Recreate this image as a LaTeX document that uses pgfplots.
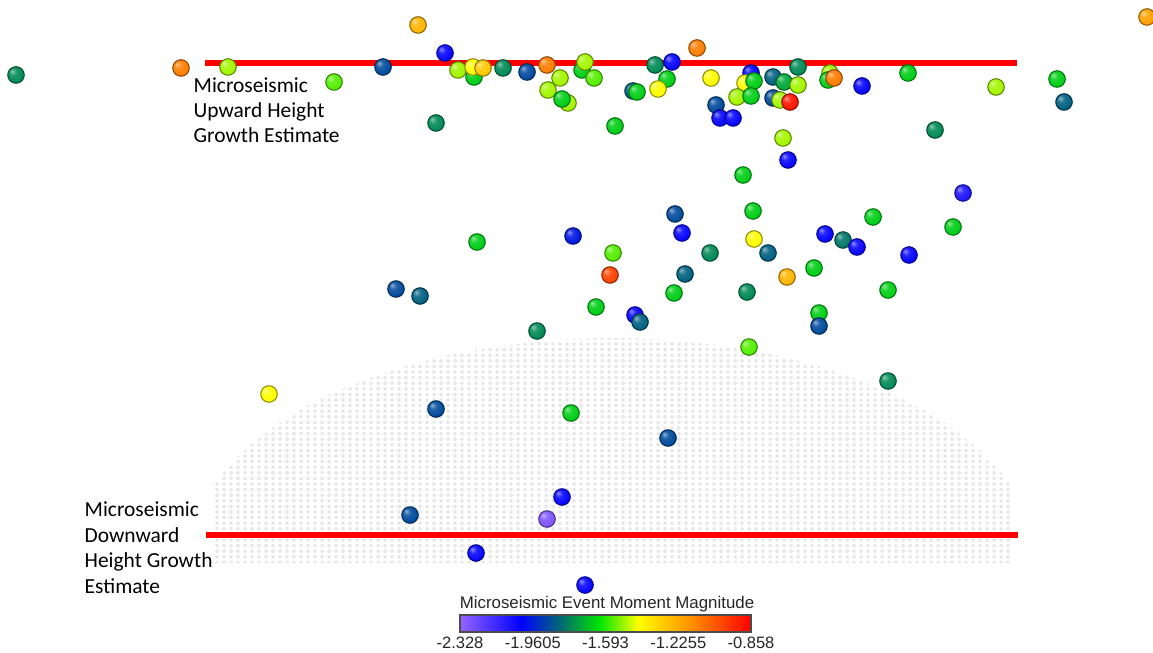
\documentclass[border=0pt]{standalone}
\usepackage{fontspec}
\setmainfont{Carlito}
\newfontfamily\arial{Liberation Sans}
\usepackage{pgfplots}
\usepackage{pgfplotstable}
\pgfplotsset{compat=1.18}
\usetikzlibrary{patterns.meta}

\tikzdeclarepattern{
  name=gdots,
  type=uncolored,
  bottom left={(-0.035cm,-0.028cm)},
  top right={(0.035cm,0.028cm)},
  tile size={(0.07cm,0.056cm)},
  code={\draw[line width=0.2pt] (0,0) circle (0.014cm);}
}

% lit sphere marker in the mapped colour
\pgfdeclareradialshading[mapped color]{sph}{\pgfqpoint{-12bp}{12bp}}{%
  color(0bp)=(mapped color!45!white);
  color(11bp)=(mapped color!88!white);
  color(28bp)=(mapped color);
  color(42bp)=(mapped color!82!black);
  color(50bp)=(mapped color!60!black)}
\pgfdeclareplotmark{sph}{%
  \pgfpathcircle{\pgfpointorigin}{\pgfplotmarksize}%
  \pgfshadepath{sph}{0}%
  \pgfusepath{stroke}}

\pgfplotsset{
  colormap={msm}{rgb255(0cm)=(150,100,255) rgb255(2.1cm)=(0,0,255) rgb255(3.5cm)=(0,110,110) rgb255(4.8cm)=(0,230,0) rgb255(6.1cm)=(255,255,0) rgb255(8cm)=(255,140,0) rgb255(10cm)=(255,0,0)},
}

% event positions (image pixels from top-left) and moment magnitude
\pgfplotstableread{
x y m
1147 17 -1.20
418 25 -1.25
16 75 -1.77
181 68 -1.12
228 67 -1.50
334 82 -1.56
383 67 -1.88
445 53 -2.03
458 70 -1.50
474 77 -1.66
473 67 -1.43
483 68 -1.30
503 68 -1.77
436 123 -1.77
527 72 -1.88
547 65 -1.12
560 78 -1.50
548 90 -1.50
582 70 -1.66
585 62 -1.50
594 78 -1.56
568 103 -1.50
562 99 -1.66
615 126 -1.66
633 91 -1.84
637 92 -1.66
655 65 -1.77
672 62 -2.03
667 79 -1.66
658 89 -1.43
697 48 -1.12
711 78 -1.43
751 73 -2.03
745 83 -1.43
737 97 -1.50
754 81 -1.66
751 96 -1.66
716 105 -1.88
720 118 -2.03
733 118 -2.03
773 77 -1.84
784 82 -1.72
798 85 -1.50
798 67 -1.77
773 98 -1.88
780 100 -1.50
790 102 -0.90
830 73 -1.50
828 80 -1.66
834 78 -1.12
862 86 -2.03
783 138 -1.50
788 160 -2.03
908 73 -1.66
996 87 -1.50
1057 79 -1.66
1064 102 -1.84
935 130 -1.77
743 175 -1.66
963 193 -2.08
753 211 -1.66
873 217 -1.66
953 227 -1.66
675 214 -1.88
682 233 -2.03
573 236 -1.98
477 242 -1.66
613 253 -1.56
754 239 -1.43
710 253 -1.77
768 253 -1.84
825 234 -2.03
843 240 -1.80
857 247 -2.03
909 255 -2.03
814 268 -1.66
610 275 -1.00
685 274 -1.84
787 277 -1.25
396 289 -1.88
420 296 -1.84
674 293 -1.66
747 292 -1.77
888 290 -1.66
596 307 -1.66
635 315 -2.03
640 322 -1.84
819 313 -1.66
819 326 -1.88
537 331 -1.77
749 347 -1.56
888 381 -1.77
269 394 -1.43
436 409 -1.88
571 413 -1.66
668 438 -1.88
562 497 -2.03
410 515 -1.88
547 519 -2.28
476 553 -2.03
585 585 -2.03
}\events

\begin{document}
\begin{tikzpicture}
\path[use as bounding box] (0,0) rectangle (11.53cm,6.52cm);
\begin{axis}[
  at={(0,0)}, anchor=south west,
  scale only axis, width=11.53cm, height=6.52cm,
  xmin=0, xmax=1153, ymin=0, ymax=652,
  hide axis,
  colormap name=msm,
  point meta min=-2.328, point meta max=-0.858,
]
% dotted stimulated region
\addplot[draw=none, pattern={gdots}, pattern color=gray!27, y filter/.expression={652-y}] coordinates {
(212,563) (212,487) (225,470) (250,445) (275,426) (300,410) (325,397) (350,386) (375,376) (400,368) (425,361) (450,355) (475,350) (500,346) (525,343) (550,340) (575,339) (600,338) (612,338) (624,338) (649,339) (674,340) (699,343) (724,346) (749,350) (774,355) (799,361) (824,368) (849,376) (874,386) (899,397) (924,410) (949,426) (974,445) (999,470) (1012,487) (1012,563)
} -- cycle;

% events
\addplot[scatter, only marks, mark=sph, mark size=2.35pt, point meta=explicit,
  scatter/use mapped color={draw=mapped color!55!black},
  mark options={line width=0.3pt}]
  table[x=x, y expr=652-\thisrow{y}, meta=m] {\events};

% height growth estimates
\addplot[red, line width=1.5pt, y filter/.expression={652-y}] coordinates {(205,63) (1017,63)};
\addplot[red, line width=1.5pt, y filter/.expression={652-y}] coordinates {(206,535) (1018,535)};

\begin{scope}[every node/.style={anchor=base west, inner sep=0pt, font=\fontsize{6.1}{7}\selectfont}]
\node at (axis cs:193,559.3) {Microseismic};
\node at (axis cs:193,534.5) {Upward Height};
\node at (axis cs:193,509.3) {Growth Estimate};
\node at (axis cs:84,135.5) {Microseismic};
\node at (axis cs:84,110) {Downward};
\node at (axis cs:84,84.5) {Height Growth};
\node at (axis cs:84,59) {Estimate};
\end{scope}
\node[anchor=base, inner sep=0pt, text=black!85, font=\arial\fontsize{4.8}{5}\selectfont] at (axis cs:607,43.7) {Microseismic Event Moment Magnitude};
\end{axis}

% colour bar
\begin{axis}[
  at={(4.60cm,0.20cm)}, anchor=south west,
  scale only axis, width=2.91cm, height=0.17cm,
  xmin=-2.328, xmax=-0.858, ymin=0, ymax=1,
  enlargelimits=false, axis on top,
  colormap name=msm,
  point meta min=-2.328, point meta max=-0.858,
  ytick=\empty,
  xtick={-2.328,-1.9605,-1.593,-1.2255,-0.858},
  xticklabels={-2.328,-1.9605,-1.593,-1.2255,-0.858},
  xticklabel style={font=\arial\fontsize{4.7}{5}\selectfont, text=black!85, inner sep=0pt, yshift=-1.3pt},
  major tick length=0pt,
  axis line style={draw=black!70, line width=0.3pt},
]
\addplot[surf, shader=interp, point meta=x, mesh/rows=2] coordinates {
(-2.328,0) (-2.0193,0) (-1.8135,0) (-1.6224,0) (-1.4313,0) (-1.152,0) (-0.858,0)
(-2.328,1) (-2.0193,1) (-1.8135,1) (-1.6224,1) (-1.4313,1) (-1.152,1) (-0.858,1)
};
\end{axis}
\end{tikzpicture}
\end{document}
